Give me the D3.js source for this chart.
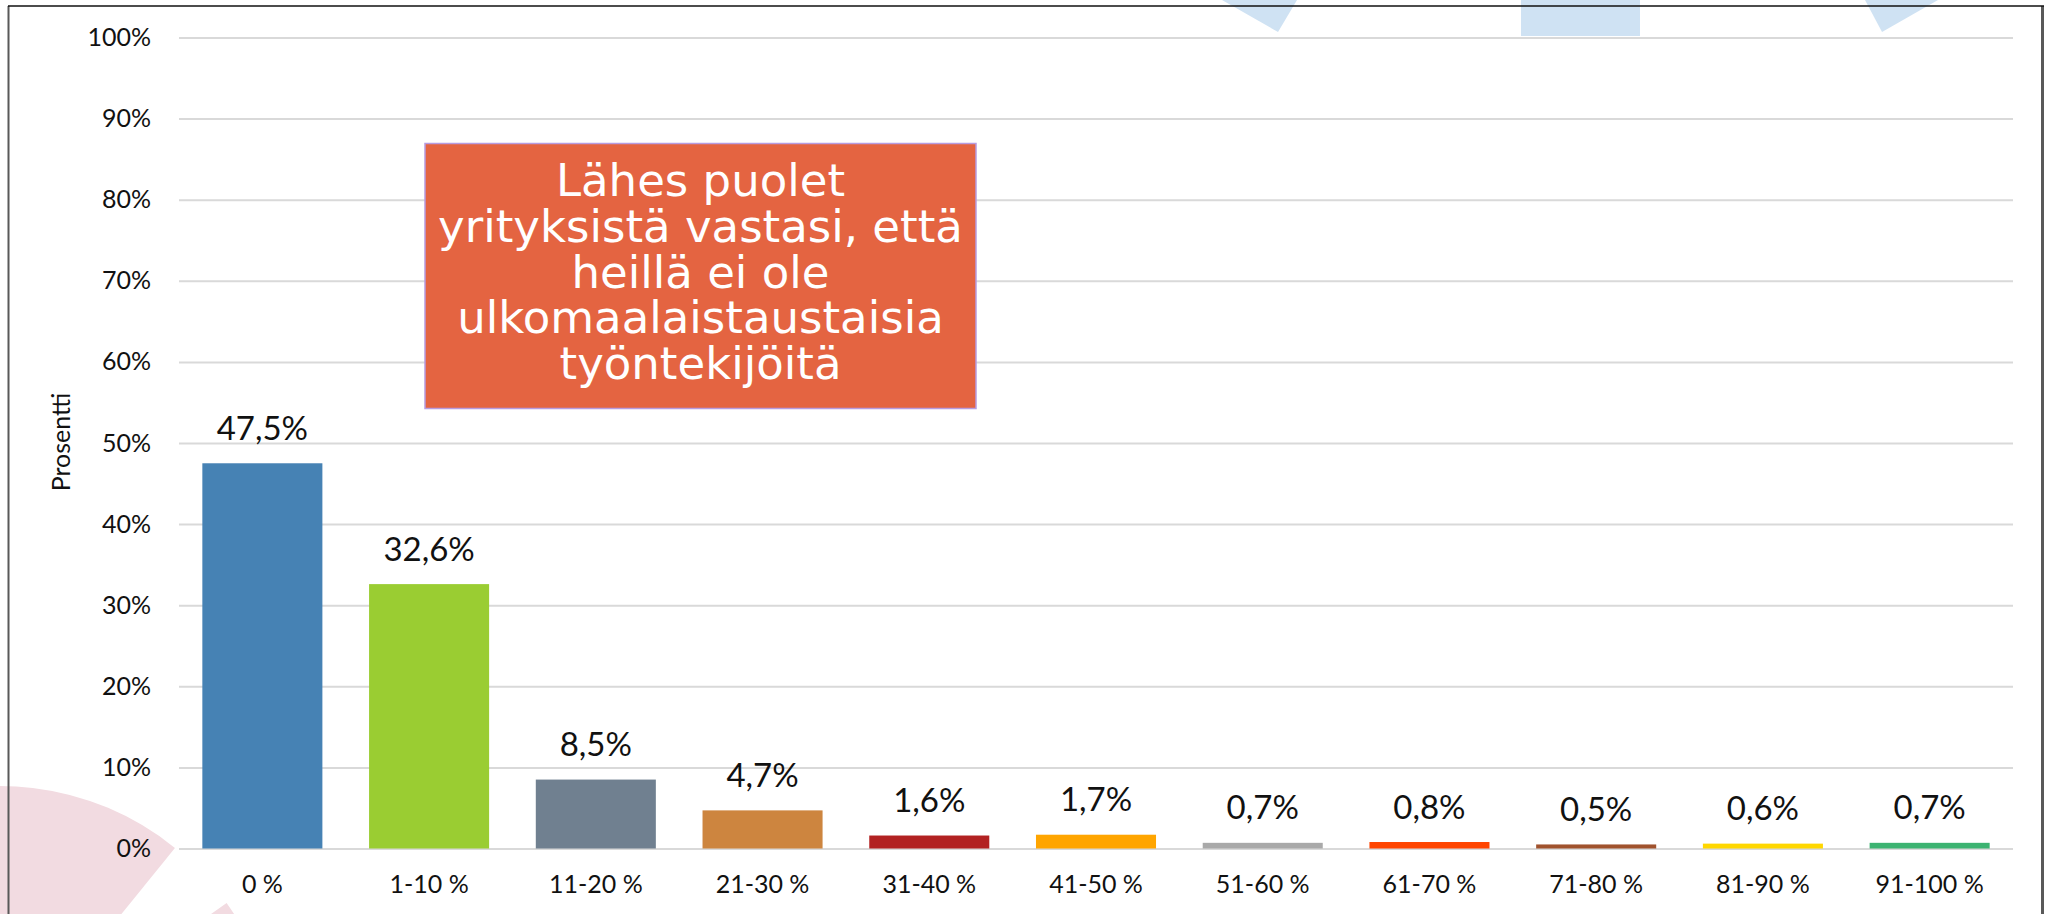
<!DOCTYPE html>
<html>
<head>
<meta charset="utf-8">
<script src="https://cdn.jsdelivr.net/npm/d3@7"></script>
<style>
  html, body { margin: 0; padding: 0; background: #fff; }
  svg { display: block; }
</style>
</head>
<body>
<div id="chart"></div>
<script>
// Data
var categories = ['0 %', '1-10 %', '11-20 %', '21-30 %', '31-40 %', '41-50 %', '51-60 %', '61-70 %', '71-80 %', '81-90 %', '91-100 %'];
var values = [47.5, 32.6, 8.5, 4.7, 1.6, 1.7, 0.7, 0.8, 0.5, 0.6, 0.7];
var barColors = ['steelblue', 'yellowgreen', 'slategray', 'peru', 'firebrick', 'orange', 'darkgray', 'orangered', 'sienna', 'gold', 'mediumseagreen'];
var yTicks = [0, 10, 20, 30, 40, 50, 60, 70, 80, 90, 100];
var yTitle = 'Prosentti';
var noteLines = ['Lähes puolet', 'yrityksistä vastasi, että', 'heillä ei ole', 'ulkomaalaistaustaisia', 'työntekijöitä'];

// Finnish number format (decimal comma)
var fi = d3.formatLocale({ decimal: ',', thousands: '\u00a0', grouping: [3], currency: ['', '\u00a0€'] });
var labelFormat = function (v) { return fi.format('.1f')(v) + '%'; };

var W = 2046, H = 914;
var margin = { top: 37.5, right: 33, bottom: 65.5, left: 179 };
var width = W - margin.left - margin.right;
var height = H - margin.top - margin.bottom;
var font = 'Lato, "Open Sans", sans-serif';

var svg = d3.select('#chart')
    .append('svg')
    .attr('width', W)
    .attr('height', H);

// Slide background decorations
var deco = svg.append('g').attr('class', 'deco');
var pinkArc = d3.arc().innerRadius(0).outerRadius(278);
[[-Math.PI / 2, 39 * Math.PI / 180], [54.6 * Math.PI / 180, Math.PI]].forEach(function (a) {
    deco.append('path')
        .attr('transform', 'translate(0,1064)')
        .attr('d', pinkArc({ startAngle: a[0], endAngle: a[1] }))
        .style('fill', '#f2dbe1');
});
var blueShapes = [
    [[1222, 0], [1297, 0], [1278, 32]],
    [[1521, 0], [1640, 0], [1640, 36], [1521, 36]],
    [[1865, 0], [1938, 0], [1882, 32]]
];
blueShapes.forEach(function (pts) {
    deco.append('path')
        .attr('d', d3.line()(pts) + 'Z')
        .style('fill', '#cfe2f3');
});

// Chart frame
svg.append('line').attr('x1', 8.5).attr('x2', 8.5).attr('y1', 6).attr('y2', H)
    .style('stroke', '#595959').style('stroke-width', 2);
svg.append('line').attr('x1', 2042.5).attr('x2', 2042.5).attr('y1', 6).attr('y2', H)
    .style('stroke', '#595959').style('stroke-width', 3);
svg.append('line').attr('x1', 8).attr('x2', 2044).attr('y1', 6).attr('y2', 6)
    .style('stroke', '#111').style('stroke-width', 1.5);

var g = svg.append('g')
    .attr('transform', 'translate(' + margin.left + ',' + margin.top + ')');

// Scales
var x = d3.scaleBand()
    .domain(categories)
    .range([0, width])
    .paddingInner(0.28)
    .paddingOuter(0.14);

var y = d3.scaleLinear()
    .domain([0, 100])
    .range([height, 0]);

// Gridlines
g.append('g')
    .call(d3.axisLeft(y).tickValues(yTicks).tickSize(-width).tickFormat(''))
    .call(function (s) { s.select('.domain').remove(); })
    .selectAll('line')
    .style('stroke', '#d9d9d9')
    .style('stroke-width', 2);

// Y axis labels
var yAxis = g.append('g')
    .call(d3.axisLeft(y).tickValues(yTicks).tickSize(0).tickPadding(28)
        .tickFormat(function (d) { return d + '%'; }));
yAxis.select('.domain').remove();
yAxis.selectAll('text')
    .style('font-family', font)
    .style('font-size', '25px')
    .style('fill', '#111');

// X axis labels
var xAxis = g.append('g')
    .attr('transform', 'translate(0,' + height + ')')
    .call(d3.axisBottom(x).tickSize(0).tickPadding(27));
xAxis.select('.domain').remove();
xAxis.selectAll('text')
    .style('font-family', font)
    .style('font-size', '25px')
    .style('fill', '#111');

// Y axis title
svg.append('text')
    .attr('transform', 'translate(70,442) rotate(-90)')
    .attr('text-anchor', 'middle')
    .style('font-family', font)
    .style('font-size', '25px')
    .style('fill', '#111')
    .text(yTitle);

// Bars
g.selectAll('.bar')
    .data(values)
    .enter()
    .append('rect')
    .attr('class', 'bar')
    .attr('x', function (d, i) { return x(categories[i]); })
    .attr('y', function (d) { return y(d); })
    .attr('width', x.bandwidth())
    .attr('height', function (d) { return height - y(d); })
    .style('fill', function (d, i) { return barColors[i]; });

// Value labels
g.selectAll('.value-label')
    .data(values)
    .enter()
    .append('text')
    .attr('class', 'value-label')
    .attr('x', function (d, i) { return x(categories[i]) + x.bandwidth() / 2; })
    .attr('y', function (d) { return y(d) - 23.5; })
    .attr('text-anchor', 'middle')
    .style('font-family', font)
    .style('font-size', '33px')
    .style('fill', '#111')
    .text(labelFormat);

// Annotation box (one multi-line text)
var note = svg.append('g').attr('class', 'note');
note.append('rect')
    .attr('x', 425)
    .attr('y', 143.5)
    .attr('width', 551)
    .attr('height', 265)
    .style('fill', '#e46441')
    .style('stroke', '#b79ce0')
    .style('stroke-width', 1.5);
note.append('text')
    .attr('x', 700.5)
    .attr('y', 196)
    .attr('text-anchor', 'middle')
    .style('font-family', '"Century Gothic", "DejaVu Sans", sans-serif')
    .style('font-size', '45px')
    .style('fill', '#fff')
    .selectAll('tspan')
    .data(noteLines)
    .enter()
    .append('tspan')
    .attr('x', 700.5)
    .attr('dy', function (d, i) { return i === 0 ? 0 : 45.8; })
    .text(function (d) { return d; });
</script>
</body>
</html>
